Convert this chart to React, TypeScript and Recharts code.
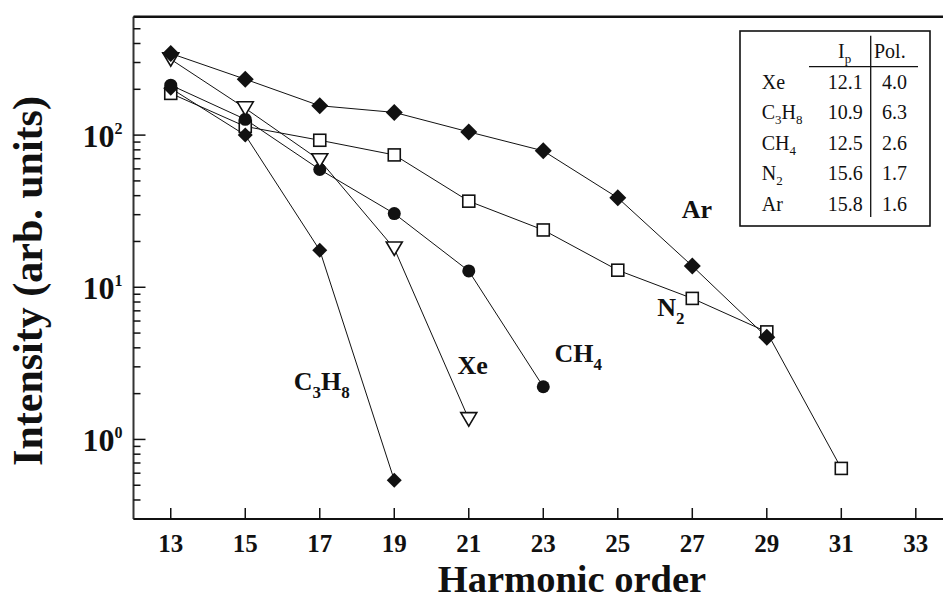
import React from "react";
import { LineChart, Line, XAxis, YAxis, ReferenceLine, ReferenceDot } from "recharts";

// harmonic orders and intensities
const harmonics = [13, 15, 17, 19, 21, 23, 25, 27, 29, 31];
const arValues = [344, 233, 156, 141, 105, 78.8, 38.7, 13.8, 4.7];
const n2Values = [188, 114, 92.5, 74.1, 36.8, 23.8, 12.95, 8.45, 5.09, 0.645];
const ch4Values = [213, 127, 59.4, 30.5, 12.8, 2.22];
const xeValues = [315, 150, 68.4, 18, 1.36];
const c3h8Values = [203, 100, 17.5, 0.54];

const xTicks = [13, 15, 17, 19, 21, 23, 25, 27, 29, 31, 33];
const yMajor = [1, 10, 100];
const yMinor = [0.3, 0.4, 0.5, 0.6, 0.7, 0.8, 0.9, 2, 3, 4, 5, 6, 7, 8, 9, 20, 30, 40, 50, 60, 70, 80, 90, 200, 300, 400, 500, 600];
const yTicks = [...yMinor, ...yMajor].sort((a, b) => a - b);

// inset table
const gases = ["Xe", "C3H8", "CH4", "N2", "Ar"];
const ionPotential = ["12.1", "10.9", "12.5", "15.6", "15.8"];
const polarizability = ["4.0", "6.3", "2.6", "1.7", "1.6"];

// curve labels: [text, harmonic, intensity]
const curveLabels: [string, number, number][] = [
  ["Ar", 26.72, 28.4],
  ["N2", 26.06, 6.49],
  ["C3H8", 16.3, 2.11],
  ["Xe", 20.7, 2.69],
  ["CH4", 23.3, 3.23],
];

const toPoints = (vals: number[]) => vals.map((v, i) => ({ x: harmonics[i], y: v }));

const serif = "'Liberation Serif', 'Times New Roman', serif";
const ink = "#111";

function Formula({ x, y, text, size, subSize, subDy, bold }: any) {
  const parts: string[] = text.match(/[A-Za-z]+|\d+/g) || [];
  let shifted = false;
  return (
    <text x={x} y={y} fontFamily={serif} fontSize={size} fontWeight={bold ? "bold" : "normal"} fill={ink}>
      {parts.map((p, i) => {
        const isSub = /\d/.test(p);
        let dy = 0;
        if (isSub && !shifted) dy = subDy;
        if (!isSub && shifted) dy = -subDy;
        shifted = isSub;
        return (
          <tspan key={i} dy={dy} fontSize={isSub ? subSize : size}>
            {p}
          </tspan>
        );
      })}
    </text>
  );
}

const diamond = (r: number) => (p: any) => {
  const { cx, cy, index } = p;
  if (cx == null || cy == null) return <g key={index} />;
  return (
    <polygon
      key={`d${index}`}
      points={`${cx},${cy - r} ${cx + r},${cy} ${cx},${cy + r} ${cx - r},${cy}`}
      fill={ink}
    />
  );
};

const square = (p: any) => {
  const { cx, cy, index } = p;
  if (cx == null || cy == null) return <g key={index} />;
  return <rect key={`s${index}`} x={cx - 6} y={cy - 6} width={12} height={12} fill="#fff" stroke={ink} strokeWidth={1.6} />;
};

const circle = (p: any) => {
  const { cx, cy, index } = p;
  if (cx == null || cy == null) return <g key={index} />;
  return <circle key={`c${index}`} cx={cx} cy={cy} r={6.5} fill={ink} />;
};

const triangle = (p: any) => {
  const { cx, cy, index } = p;
  if (cx == null || cy == null) return <g key={index} />;
  return (
    <polygon
      key={`t${index}`}
      points={`${cx - 8},${cy - 6.5} ${cx + 8},${cy - 6.5} ${cx},${cy + 7}`}
      fill="#fff"
      stroke={ink}
      strokeWidth={1.6}
    />
  );
};

const YTick = (props: any) => {
  const { x, y, payload } = props;
  const v = payload.value;
  const major = yMajor.includes(v);
  return (
    <g>
      <line x1={x} y1={y} x2={x + (major ? 12 : 7)} y2={y} stroke={ink} strokeWidth={1.5} />
      {major && (
        <text x={x - 11} y={y + 11.5} textAnchor="end" fontFamily={serif} fontWeight="bold" fontSize={32} fill={ink}>
          10
          <tspan dy={-13} fontSize={16}>
            {Math.round(Math.log10(v))}
          </tspan>
        </text>
      )}
    </g>
  );
};

const XTick = (props: any) => {
  const { x, y, payload } = props;
  return (
    <g>
      <line x1={x} y1={y} x2={x} y2={y - 11} stroke={ink} strokeWidth={1.5} />
      <text x={x} y={y + 33} textAnchor="middle" fontFamily={serif} fontWeight="bold" fontSize={25} fill={ink}>
        {payload.value}
      </text>
    </g>
  );
};

const series = [
  { name: "N2", values: n2Values, dot: square },
  { name: "CH4", values: ch4Values, dot: circle },
  { name: "C3H8", values: c3h8Values, dot: diamond(7.5) },
  { name: "Xe", values: xeValues, dot: triangle },
  { name: "Ar", values: arValues, dot: diamond(8.5) },
];

function InsetTable() {
  const rows = [88.5, 119, 149.5, 180, 210.5];
  return (
    <svg width={943} height={601} style={{ position: "absolute", left: 0, top: 0, pointerEvents: "none" }}>
      <rect x={740} y={31} width={190} height={195} fill="#fff" stroke={ink} strokeWidth={1.6} />
      <line x1={870.7} y1={35.7} x2={870.7} y2={217} stroke={ink} strokeWidth={1.3} />
      <line x1={809} y1={66.7} x2={918} y2={66.7} stroke={ink} strokeWidth={1.3} />
      <text x={838} y={57.5} fontFamily={serif} fontSize={20} fill={ink}>
        I
        <tspan dy={5} fontSize={13}>p</tspan>
      </text>
      <text x={874} y={57.5} fontFamily={serif} fontSize={20} fill={ink}>Pol.</text>
      {gases.map((g, i) => (
        <g key={g}>
          <Formula x={761.7} y={rows[i]} text={g} size={20} subSize={13} subDy={5} />
          <text x={862.7} y={rows[i]} textAnchor="end" fontFamily={serif} fontSize={20} fill={ink}>
            {ionPotential[i]}
          </text>
          <text x={882} y={rows[i]} fontFamily={serif} fontSize={20} fill={ink}>
            {polarizability[i]}
          </text>
        </g>
      ))}
    </svg>
  );
}

export default function App() {
  return (
    <div style={{ position: "fixed", left: 0, top: 0, width: 943, height: 601, overflow: "hidden", background: "#fff" }}>
      <LineChart width={943} height={601} margin={{ top: 16.7, right: 0, bottom: 0, left: 0 }}>
        <XAxis
          type="number"
          dataKey="x"
          domain={[12, 33.73]}
          ticks={xTicks}
          allowDataOverflow
          height={82}
          tickSize={0}
          tickMargin={0}
          tickLine={false}
          tick={<XTick />}
          axisLine={{ stroke: ink, strokeWidth: 2 }}
          label={() => (
            <text x={572} y={592} textAnchor="middle" fontFamily={serif} fontWeight="bold" fontSize={38.5} fill={ink}>
              Harmonic order
            </text>
          )}
        />
        <YAxis
          type="number"
          dataKey="y"
          scale="log"
          domain={[0.3, 600]}
          ticks={yTicks}
          allowDataOverflow
          width={133.5}
          tickSize={0}
          tickMargin={0}
          tickLine={false}
          tick={<YTick />}
          interval={0}
          axisLine={{ stroke: "#333", strokeWidth: 2 }}
          label={() => (
            <text x={42} y={281} transform="rotate(-90 42 281)" textAnchor="middle" fontFamily={serif} fontWeight="bold" fontSize={42} fill={ink}>
              Intensity (arb. units)
            </text>
          )}
        />
        <ReferenceLine y={600} stroke={ink} strokeWidth={2.5} ifOverflow="visible" />
        {series.map((s) => (
          <Line
            key={s.name}
            data={toPoints(s.values)}
            dataKey="y"
            type="linear"
            stroke={ink}
            strokeWidth={1}
            dot={s.dot}
            activeDot={false}
            isAnimationActive={false}
          />
        ))}
        {curveLabels.map(([t, x, y]) => (
          <ReferenceDot
            key={t}
            x={x}
            y={y}
            r={0}
            ifOverflow="visible"
            shape={(p: any) => <Formula x={p.cx} y={p.cy} text={t} size={26} subSize={17} subDy={8} bold />}
          />
        ))}
      </LineChart>
      <InsetTable />
    </div>
  );
}
